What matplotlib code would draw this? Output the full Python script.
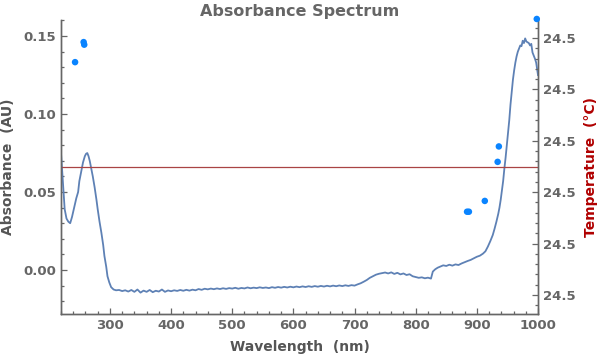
import matplotlib
matplotlib.use("Agg")
import matplotlib.pyplot as plt
from matplotlib.ticker import MultipleLocator, FormatStrFormatter

# Absorbance spectrum in three pieces
# UV band (220-330 nm)
wl_uv = [220, 222, 224, 226, 229, 232, 235, 238, 242, 245,
         248, 250, 253, 256, 259, 261, 263, 265, 267, 269,
         272, 275, 278, 280, 283, 286, 289, 291, 294, 296,
         299, 302, 306, 310, 315, 320, 325, 330]
abs_uv = [0.075, 0.063, 0.050, 0.039, 0.033, 0.031, 0.030, 0.034, 0.041, 0.046,
          0.050, 0.057, 0.063, 0.069, 0.073, 0.0745, 0.075, 0.073, 0.070, 0.066,
          0.060, 0.053, 0.045, 0.039, 0.031, 0.024, 0.016, 0.009, 0.002, -0.004,
          -0.008, -0.011, -0.0125, -0.013, -0.0128, -0.0135, -0.0130, -0.0138]

# flat baseline (335-820 nm, every 5 nm)
wl_flat = list(range(335, 825, 5))
abs_flat = [-0.0128, -0.0140, -0.0125, -0.0145, -0.0132, -0.0140, -0.0128, -0.0142, -0.0133, -0.0138,
            -0.0125, -0.0140, -0.0131, -0.0136, -0.0130, -0.0134, -0.0128, -0.0133, -0.0127, -0.0132,
            -0.0126, -0.0130, -0.0122, -0.0127, -0.0120, -0.0124, -0.0119, -0.0123, -0.0118, -0.0122,
            -0.0117, -0.0121, -0.0116, -0.0119, -0.0114, -0.0120, -0.0115, -0.0118, -0.0112, -0.0117,
            -0.0113, -0.0116, -0.0111, -0.0115, -0.0112, -0.0116, -0.0110, -0.0114, -0.0109, -0.0113,
            -0.0108, -0.0112, -0.0107, -0.0111, -0.0106, -0.0110, -0.0105, -0.0109, -0.0104, -0.0108,
            -0.0103, -0.0107, -0.0102, -0.0106, -0.0101, -0.0105, -0.0100, -0.0104, -0.0099, -0.0103,
            -0.0098, -0.0102, -0.0097, -0.0100, -0.0092, -0.0085, -0.0075, -0.0064, -0.0050, -0.0040,
            -0.0030, -0.0024, -0.0020, -0.0016, -0.0022, -0.0015, -0.0025, -0.0018, -0.0028, -0.0022,
            -0.0032, -0.0027, -0.0040, -0.0045, -0.0050, -0.0047, -0.0053, -0.0049]

# NIR rise (825-1000 nm)
wl_nir = [825, 828, 832, 836, 840, 845, 850, 855, 860, 865,
          870, 875, 880, 885, 890, 895, 900, 905, 910, 914,
          918, 922, 926, 929, 932, 935, 937, 939, 941, 943,
          945, 947, 949, 951, 953, 955, 957, 959, 961, 963,
          965, 967, 969, 971, 973, 975, 977, 979, 981, 983,
          985, 987, 989, 991, 993, 995, 997, 1000]
abs_nir = [-0.0055, -0.0010, 0.0005, 0.0015, 0.0022, 0.0030, 0.0026, 0.0034, 0.0028, 0.0036,
           0.0032, 0.0042, 0.0050, 0.0058, 0.0065, 0.0075, 0.0085, 0.0092, 0.0105, 0.0120,
           0.0150, 0.0185, 0.0224, 0.0265, 0.0310, 0.0360, 0.0400, 0.0450, 0.0510, 0.0570,
           0.0650, 0.0720, 0.0800, 0.0880, 0.0960, 0.1060, 0.1140, 0.1220, 0.1280, 0.1330,
           0.1370, 0.1400, 0.1420, 0.1440, 0.1435, 0.1470, 0.1455, 0.1485, 0.1465, 0.1460,
           0.1455, 0.1440, 0.1450, 0.1395, 0.1375, 0.1355, 0.1330, 0.1250]

# Temperature readings (right axis)
temp_wavelength = [243, 257, 258, 884, 887, 913, 934, 936, 998]
temperature = [24.5053, 24.5092, 24.5087, 24.4762, 24.4762, 24.4783, 24.4859, 24.4889, 24.5137]
temp_reference = 24.4849

wavelength = wl_uv + wl_flat + wl_nir
absorbance = abs_uv + abs_flat + abs_nir

fig = plt.figure(figsize=(6, 3.58), dpi=100)
ax = fig.add_axes([61 / 600, 44 / 358, 477 / 600, 294 / 358])
ax2 = ax.twinx()

gray = "#666666"
label_gray = "#555555"

ax.plot(wavelength, absorbance, color="#5e81b5", lw=1.3, zorder=3)
ax2.axhline(temp_reference, color="#a94444", lw=0.9, zorder=1)
ax2.scatter(temp_wavelength, temperature, s=22, color="#0a84ff", edgecolors="none",
            zorder=4, clip_on=False)

ax.set_xlim(220, 1000)
ax.set_ylim(-0.0282, 0.1603)
ax2.set_ylim(24.4563, 24.5135)

ax.xaxis.set_major_locator(MultipleLocator(100))
ax.xaxis.set_minor_locator(MultipleLocator(20))
ax.yaxis.set_major_locator(MultipleLocator(0.05))
ax.yaxis.set_minor_locator(MultipleLocator(0.01))
ax.yaxis.set_major_formatter(FormatStrFormatter("%.2f"))
ax2.yaxis.set_major_locator(MultipleLocator(0.01))
ax2.yaxis.set_minor_locator(MultipleLocator(0.002))
ax2.yaxis.set_major_formatter(FormatStrFormatter("%.1f"))

for a in (ax, ax2):
    a.spines["top"].set_visible(False)
    for s in ("left", "right", "bottom"):
        a.spines[s].set_color(gray)
        a.spines[s].set_linewidth(1.0)
    a.tick_params(which="both", direction="in", color=gray, labelcolor=gray,
                  labelsize=9.5, width=0.9)
    a.tick_params(which="major", length=4.5)
    a.tick_params(which="minor", length=2.5)
    for lbl in a.get_xticklabels() + a.get_yticklabels():
        lbl.set_fontweight("bold")

ax.set_xlabel("Wavelength  (nm)", fontsize=10, fontweight="bold", color=label_gray, labelpad=6)
ax.set_ylabel("Absorbance  (AU)", fontsize=10, fontweight="bold", color=label_gray, labelpad=6)
ax2.set_ylabel("Temperature  (°C)", fontsize=10, fontweight="bold", color="#b00000", labelpad=6)
ax.set_title("Absorbance Spectrum", fontsize=11.5, fontweight="bold", color=gray, pad=3)

fig.savefig("out.png", dpi=100)
